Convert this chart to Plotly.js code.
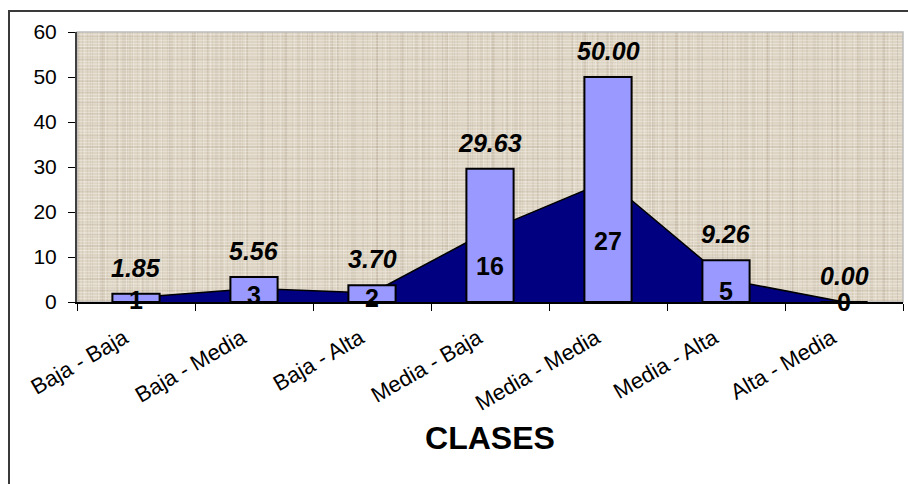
<!DOCTYPE html>
<html>
<head>
<meta charset="utf-8">
<script src="https://cdn.plot.ly/plotly-3.0.1.min.js"></script>
<style>
  html, body { margin: 0; padding: 0; background: #ffffff; }
  #wrap { position: relative; width: 908px; height: 484px; overflow: hidden; background: #ffffff; }
  #frame {
    position: absolute; left: 8px; top: 10px; width: 960px; height: 540px;
    border: 2px solid #3a3a3a; box-sizing: border-box;
  }
  /* woven linen fill behind the plotting area */
  #linen {
    position: absolute; left: 77px; top: 32px; width: 826px; height: 270px;
    background-color: #ded5c4;
    background-image:
      repeating-linear-gradient(0deg, rgba(255,255,255,0.26) 0px, rgba(255,255,255,0.26) 1px, transparent 1px, transparent 3px),
      repeating-linear-gradient(90deg, rgba(140,120,95,0.10) 0px, rgba(140,120,95,0.10) 1px, transparent 1px, transparent 5px),
      repeating-linear-gradient(90deg, rgba(255,255,255,0.20) 0px, rgba(255,255,255,0.20) 1px, transparent 1px, transparent 7px),
      repeating-linear-gradient(0deg, rgba(140,120,95,0.11) 0px, rgba(140,120,95,0.11) 2px, transparent 2px, transparent 11px),
      repeating-linear-gradient(90deg, rgba(140,120,95,0.10) 0px, rgba(140,120,95,0.10) 2px, transparent 2px, transparent 13px),
      repeating-linear-gradient(0deg, rgba(255,255,255,0.18) 0px, rgba(255,255,255,0.18) 1px, transparent 1px, transparent 17px),
      repeating-linear-gradient(90deg, rgba(120,100,80,0.08) 0px, rgba(120,100,80,0.08) 3px, transparent 3px, transparent 23px);
  }
  #chart { position: absolute; left: 0; top: 0; width: 908px; height: 484px; }
</style>
</head>
<body>
<div id="wrap">
  <div id="frame"></div>
  <div id="linen"></div>
  <div id="chart"></div>
</div>
<script>
// Class combinations on the horizontal axis
const clases = ['Baja - Baja', 'Baja - Media', 'Baja - Alta', 'Media - Baja',
                'Media - Media', 'Media - Alta', 'Alta - Media'];
// Percentage of cases per class (bars)
const porcentajes = [1.85, 5.56, 3.70, 29.63, 50.00, 9.26, 0.00];
// Number of cases per class (area)
const frecuencias = [1, 3, 2, 16, 27, 5, 0];

const FONT = '"Liberation Sans", Arial, Helvetica, sans-serif';

const area = {
  type: 'scatter',
  x: clases,
  y: frecuencias,
  xaxis: 'x',
  yaxis: 'y',
  mode: 'lines',
  fill: 'tozeroy',
  fillcolor: '#000080',
  line: { color: '#000000', width: 1.5 },
  hoverinfo: 'skip',
  showlegend: false
};

const barras = {
  type: 'bar',
  x: clases,
  y: porcentajes,
  xaxis: 'x',
  yaxis: 'y2',
  width: 0.4,
  marker: { color: '#9999FF', line: { color: '#000000', width: 2 } },
  hoverinfo: 'skip',
  showlegend: false
};

// carries the slanted category names (draws nothing itself)
const etiquetas = {
  type: 'scatter',
  x: clases,
  y: frecuencias,
  xaxis: 'x2',
  yaxis: 'y',
  mode: 'none',
  hoverinfo: 'skip',
  showlegend: false
};

const annotations = [];
// percentage value above each bar
porcentajes.forEach((p, i) => {
  annotations.push({
    x: clases[i], y: p, xref: 'x', yref: 'y2',
    text: '<b><i>' + p.toFixed(2) + '</i></b>',
    showarrow: false, yanchor: 'middle', yshift: 26,
    font: { family: FONT, size: 25, color: '#000000' }
  });
});
// case count placed halfway up the area at each class
frecuencias.forEach((n, i) => {
  annotations.push({
    x: clases[i], y: n / 2, xref: 'x', yref: 'y',
    text: '<b>' + n + '</b>',
    showarrow: false, yanchor: 'middle',
    font: { family: FONT, size: 25, color: '#000000' }
  });
});

const layout = {
  width: 908,
  height: 484,
  margin: { l: 77, r: 5, t: 32, b: 182, pad: 0 },
  paper_bgcolor: 'rgba(0,0,0,0)',
  plot_bgcolor: 'rgba(0,0,0,0)',
  font: { family: FONT, color: '#000000' },
  showlegend: false,
  // category axis: line, boundary ticks and title
  xaxis: {
    type: 'category',
    categoryorder: 'array',
    categoryarray: clases,
    range: [-0.5, 6.5],
    tickson: 'boundaries',
    ticks: 'outside',
    ticklen: 7,
    tickwidth: 1,
    tickcolor: '#000000',
    showline: true,
    linecolor: '#000000',
    linewidth: 1.5,
    showgrid: false,
    zeroline: false,
    showticklabels: false,
    title: { text: '<b>CLASES</b>', font: { family: FONT, size: 32, color: '#000000' }, standoff: 124 },
    automargin: false,
    fixedrange: true
  },
  // slanted category names, set slightly left of each class centre
  xaxis2: {
    type: 'category',
    categoryorder: 'array',
    categoryarray: clases,
    overlaying: 'x',
    anchor: 'y',
    side: 'bottom',
    range: [-0.4, 6.6],
    ticks: '',
    showline: false,
    showgrid: false,
    zeroline: false,
    tickangle: -30,
    ticklabelstandoff: 18,
    tickfont: { family: FONT, size: 22, color: '#000000' },
    automargin: false,
    fixedrange: true
  },
  yaxis: {
    range: [0, 60],
    dtick: 10,
    ticks: 'outside',
    ticklen: 7,
    tickwidth: 1,
    tickcolor: '#000000',
    showline: true,
    linecolor: '#404040',
    linewidth: 2,
    showgrid: false,
    zeroline: false,
    ticklabelstandoff: 7,
    tickfont: { family: FONT, size: 21, color: '#000000' },
    automargin: false,
    fixedrange: true
  },
  yaxis2: {
    overlaying: 'y',
    range: [0, 60],
    visible: false,
    fixedrange: true
  },
  shapes: [{
    type: 'rect', xref: 'paper', yref: 'paper', x0: 0, x1: 1, y0: 0, y1: 1,
    line: { color: '#BDBDBD', width: 1.5 }, layer: 'below'
  }],
  annotations: annotations
};

Plotly.newPlot('chart', [area, barras, etiquetas], layout, { staticPlot: true, displayModeBar: false });
</script>
</body>
</html>
